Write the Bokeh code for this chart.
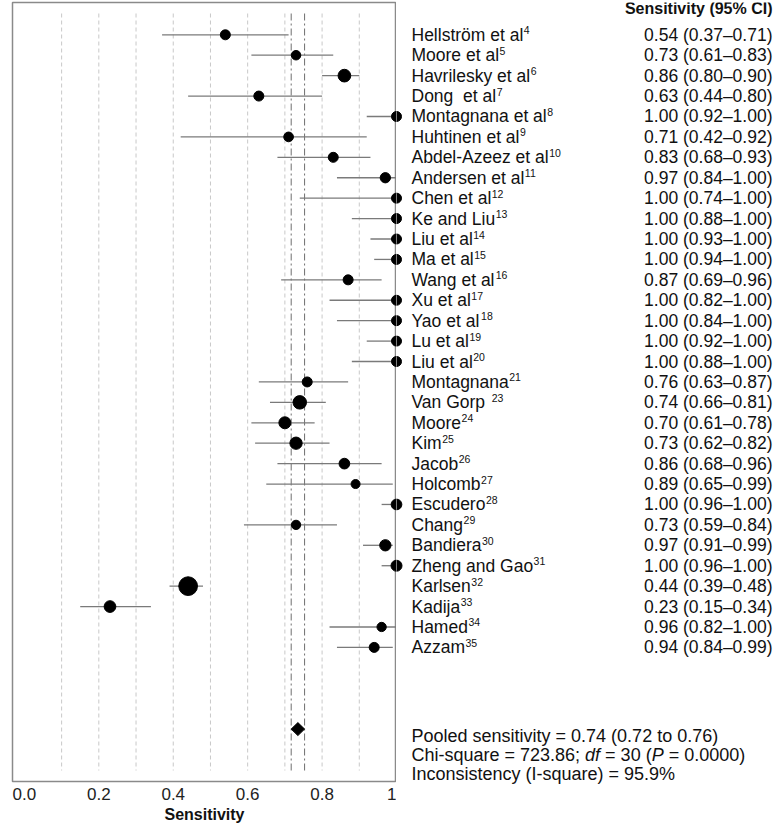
from bokeh.plotting import figure
from bokeh.layouts import row
from bokeh.models import Range1d, FixedTicker, ColumnDataSource
from bokeh.core.properties import value
from bokeh.embed import file_html
from bokeh.resources import INLINE

# ---------------- data ----------------
study_names = ["Hellström et al", "Moore et al", "Havrilesky et al", "Dong\u00a0 et al",
               "Montagnana et al", "Huhtinen et al", "Abdel-Azeez et al", "Andersen et al",
               "Chen et al", "Ke and Liu", "Liu et al", "Ma et al", "Wang et al",
               "Xu et al", "Yao et al", "Lu et al", "Liu et al", "Montagnana",
               "Van Gorp ", "Moore", "Kim", "Jacob", "Holcomb", "Escudero",
               "Chang", "Bandiera", "Zheng and Gao", "Karlsen", "Kadija", "Hamed",
               "Azzam"]
ref_numbers = ["4", "5", "6", "7", "8", "9", "10", "11", "12", "13", "14", "15", "16",
               "17", "18", "19", "20", "21", "23", "24", "25", "26", "27", "28", "29",
               "30", "31", "32", "33", "34", "35"]
sens = [0.54, 0.73, 0.86, 0.63, 1.00, 0.71, 0.83, 0.97, 1.00, 1.00, 1.00, 1.00, 0.87,
        1.00, 1.00, 1.00, 1.00, 0.76, 0.74, 0.70, 0.73, 0.86, 0.89, 1.00, 0.73, 0.97,
        1.00, 0.44, 0.23, 0.96, 0.94]
ci_low = [0.37, 0.61, 0.80, 0.44, 0.92, 0.42, 0.68, 0.84, 0.74, 0.88, 0.93, 0.94, 0.69,
          0.82, 0.84, 0.92, 0.88, 0.63, 0.66, 0.61, 0.62, 0.68, 0.65, 0.96, 0.59, 0.91,
          0.96, 0.39, 0.15, 0.82, 0.84]
ci_high = [0.71, 0.83, 0.90, 0.80, 1.00, 0.92, 0.93, 1.00, 1.00, 1.00, 1.00, 1.00, 0.96,
           1.00, 1.00, 1.00, 1.00, 0.87, 0.81, 0.78, 0.82, 0.96, 0.99, 1.00, 0.84, 0.99,
           1.00, 0.48, 0.34, 1.00, 0.99]
# relative study weights (marker size, 1.0 = typical)
weights = [1.0, 0.95, 1.27, 1.0, 1.0, 0.97, 1.0, 1.03, 1.0, 1.0, 1.0, 1.0, 1.0,
           1.0, 1.0, 1.0, 1.0, 1.0, 1.35, 1.2, 1.23, 1.07, 0.9, 1.07, 0.93, 1.13,
           1.1, 1.87, 1.17, 0.93, 1.0]

pooled_est = 0.735
pooled_low = 0.717
pooled_high = 0.753
pooled_row = 34
# summary text: one list of (text, italic) pieces per line
summary_lines = [
    [("Pooled sensitivity = 0.74 (0.72 to 0.76)", False)],
    [("Chi-square = 723.86; ", False), ("df", True), (" = 30 (", False), ("P", True),
     (" = 0.0000)", False)],
    [("Inconsistency (I-square) = 95.9%", False)],
]
summary_rows = [34.35, 35.25, 36.2]

tick_values = [0.0, 0.2, 0.4, 0.6, 0.8, 1.0]
tick_labels = ["0.0", "0.2", "0.4", "0.6", "0.8", "1"]
grid_values = [0.1, 0.2, 0.3, 0.4, 0.5, 0.6, 0.7, 0.8, 0.9]
header = "Sensitivity (95% CI)"
x_title = "Sensitivity"

# ---------------- layout constants ----------------
FONT = "Liberation Sans"
NAME_PX = 17.5
SUP_PX = 10.5
SUM_PX = 18
X_START = -0.032
LEFT_BORDER = 12
LEFT_FW = 384
PXU = LEFT_FW / (1.0 - X_START)       # px per unit of sensitivity
ROW_PX = 20.42
TOP_BORDER = 2
FIRST_ROW_PX = 32.3                   # from frame top to first row
Y_TOP = -FIRST_ROW_PX / ROW_PX
LEFT_FH = 779
BOTTOM_BORDER = 41
RIGHT_FW = 377
RIGHT_FH = LEFT_FH + BOTTOM_BORDER
INSET = 11 / ROW_PX

# Arial / Liberation Sans advance widths (per 1000 em) to place text pieces
ADV = {" ": 278, "\u00a0": 278, "-": 333, "A": 667, "B": 667, "C": 722, "D": 722,
       "E": 667, "G": 778, "H": 722, "I": 278, "J": 500, "K": 667, "L": 556, "M": 833,
       "P": 667, "V": 667, "W": 944, "X": 667, "Y": 667, "Z": 611, "a": 556, "b": 556,
       "c": 500, "d": 556, "e": 556, "f": 278, "g": 556, "h": 556, "i": 222, "j": 222,
       "k": 500, "l": 222, "m": 833, "n": 556, "o": 556, "p": 556, "q": 556, "r": 333,
       "s": 500, "t": 278, "u": 556, "v": 500, "w": 722, "x": 500, "y": 500, "z": 500,
       "ö": 556, ".": 278, ";": 278, "=": 584, "(": 333, ")": 333, "%": 889}
for dgt in "0123456789":
    ADV[dgt] = 556


def text_width(s, px):
    return sum(ADV.get(ch, 556) for ch in s) * px / 1000.0


rows = list(range(len(study_names)))
sizes = [10 * w for w in weights]
value_txt = [f"{s:.2f} ({lo:.2f}–{hi:.2f})" for s, lo, hi in zip(sens, ci_low, ci_high)]
sup_dx = [text_width(n, NAME_PX) + 0.5 for n in study_names]

src = ColumnDataSource(dict(name=study_names, ref=ref_numbers, sens=sens, lo=ci_low,
                            hi=ci_high, row=rows, size=sizes, txt=value_txt, dx=sup_dx))

# summary pieces -> flat table with pixel offsets
sum_txt, sum_row, sum_dx, sum_style = [], [], [], []
for pieces, r in zip(summary_lines, summary_rows):
    acc = ""
    for t, it in pieces:
        lead = len(t) - len(t.lstrip(" "))
        sum_txt.append(t.strip(" "))
        sum_row.append(r)
        sum_dx.append(text_width(acc + t[:lead], SUM_PX))
        sum_style.append("italic" if it else "normal")
        acc += t
sum_src = ColumnDataSource(dict(txt=sum_txt, row=sum_row, dx=sum_dx, style=sum_style))

# ---------------- left: forest plot ----------------
left = figure(frame_width=LEFT_FW, frame_height=LEFT_FH,
              x_range=Range1d(X_START, 1.0),
              y_range=Range1d(Y_TOP + LEFT_FH / ROW_PX, Y_TOP),
              output_backend="svg", toolbar_location=None, y_axis_location=None,
              min_border_left=LEFT_BORDER, min_border_right=0,
              min_border_top=TOP_BORDER, min_border_bottom=BOTTOM_BORDER)
left.outline_line_color = "#8a8a8a"
left.outline_line_width = 1.5
left.grid.visible = False
left.background_fill_color = "white"
left.border_fill_color = "white"

y_lo = Y_TOP + INSET
y_hi = Y_TOP + LEFT_FH / ROW_PX - INSET
left.segment(x0=grid_values, x1=grid_values, y0=[y_lo] * len(grid_values),
             y1=[y_hi] * len(grid_values), line_color="#c8c8c8", line_width=1,
             line_dash="4 3")
left.segment(x0=[pooled_low, pooled_high], x1=[pooled_low, pooled_high],
             y0=[y_lo, y_lo], y1=[y_hi, y_hi], line_color="#6e6e6e", line_width=1,
             line_dash="7 3 2 3")

left.segment(x0="lo", x1="hi", y0="row", y1="row", source=src,
             line_color="#7a7a7a", line_width=1.3)
left.scatter(x="sens", y="row", size="size", source=src, marker="circle",
             fill_color="black", line_color="black")

dh = 6.5 / ROW_PX
left.patch(x=[pooled_low, pooled_est, pooled_high, pooled_est],
           y=[pooled_row, pooled_row - dh, pooled_row, pooled_row + dh],
           fill_color="black", line_color="black")

ax = left.xaxis[0]
ax.ticker = FixedTicker(ticks=tick_values)
ax.major_label_overrides = {v: l for v, l in zip(tick_values, tick_labels)}
ax.major_label_text_font = FONT
ax.major_label_text_font_size = "17px"
ax.major_label_text_color = "#222222"
ax.major_label_standoff = 0
ax.major_tick_line_color = None
ax.minor_tick_line_color = None
ax.axis_line_color = None
ax.axis_label = x_title
ax.axis_label_text_font = FONT
ax.axis_label_text_font_style = "bold"
ax.axis_label_text_font_size = "16px"
ax.axis_label_text_color = "#111111"
ax.axis_label_standoff = 3

# ---------------- right: study table ----------------
right = figure(frame_width=RIGHT_FW, frame_height=RIGHT_FH,
               x_range=Range1d(1.0, 1.0 + RIGHT_FW / PXU),
               y_range=Range1d(Y_TOP + RIGHT_FH / ROW_PX, Y_TOP),
               output_backend="svg", toolbar_location=None,
               x_axis_location=None, y_axis_location=None, min_border=0,
               min_border_top=TOP_BORDER)
right.outline_line_color = None
right.grid.visible = False
right.background_fill_color = "white"
right.border_fill_color = "white"

# right halves of points sitting on the frame edge
right.scatter(x="sens", y="row", size="size", source=src, marker="circle",
              fill_color="black", line_color="black")

name_x = 1.0 + 15 / PXU
val_x = 1.0 + (RIGHT_FW - 1) / PXU
right.text(x=name_x, y="row", text="name", source=src, text_font=value(FONT),
           text_font_size=f"{NAME_PX}px", text_baseline="middle", text_align="left",
           text_color="#111111")
right.text(x=name_x, y="row", text="ref", source=src, x_offset="dx", y_offset=-4.5,
           text_font=value(FONT), text_font_size=f"{SUP_PX}px", text_baseline="middle",
           text_align="left", text_color="#111111")
right.text(x=val_x, y="row", text="txt", source=src, text_font=value(FONT),
           text_font_size=f"{NAME_PX}px", text_baseline="middle", text_align="right",
           text_color="#111111")
right.text(x=[val_x], y=[Y_TOP + 6 / ROW_PX], text=[header], text_font=value(FONT),
           text_font_size="16px", text_font_style="bold", text_baseline="middle",
           text_align="right", text_color="#111111")
right.text(x=name_x, y="row", text="txt", x_offset="dx", text_font_style="style",
           source=sum_src, text_font=value(FONT), text_font_size=f"{SUM_PX}px",
           text_baseline="middle", text_align="left", text_color="#111111")

layout = row(left, right)
open("out.html", "w").write(file_html(layout, INLINE))
